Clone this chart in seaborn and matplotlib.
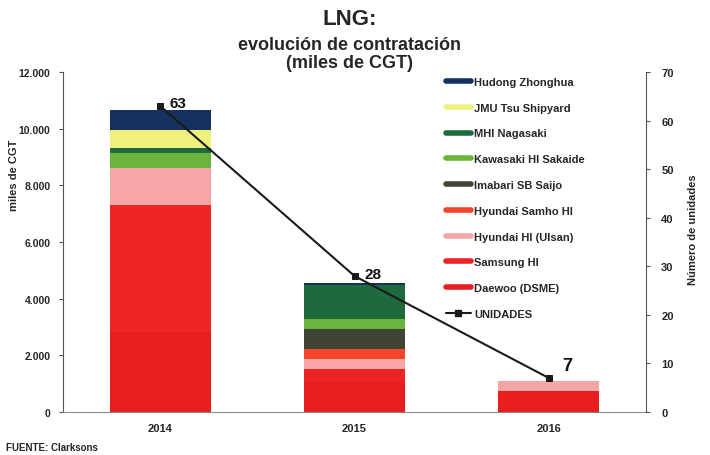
import matplotlib
matplotlib.use("Agg")
import matplotlib.pyplot as plt
import seaborn as sns
import numpy as np
import pandas as pd
from matplotlib.lines import Line2D

sns.set_style("white")
plt.rcParams['font.family'] = ['Liberation Sans', 'DejaVu Sans']

years = ["2014", "2015", "2016"]
daewoo = [2820, 1060, 750]
samsung = [4490, 460, 0]
hyundai_ulsan = [1290, 350, 350]
hyundai_samho = [0, 350, 0]
imabari = [0, 710, 0]
kawasaki = [540, 350, 0]
mhi = [170, 1200, 0]
jmu = [650, 0, 0]
hudong = [700, 70, 0]
unidades = [63, 28, 7]

values = {
    "Daewoo (DSME)": daewoo,
    "Samsung HI": samsung,
    "Hyundai HI (Ulsan)": hyundai_ulsan,
    "Hyundai Samho HI": hyundai_samho,
    "Imabari SB Saijo": imabari,
    "Kawasaki HI Sakaide": kawasaki,
    "MHI Nagasaki": mhi,
    "JMU Tsu Shipyard": jmu,
    "Hudong Zhonghua": hudong,
}
stack_order = ["Daewoo (DSME)", "Samsung HI", "Hyundai HI (Ulsan)", "Hyundai Samho HI",
               "Imabari SB Saijo", "Kawasaki HI Sakaide", "MHI Nagasaki",
               "JMU Tsu Shipyard", "Hudong Zhonghua"]
colors = {
    "Hudong Zhonghua": "#13305f",
    "JMU Tsu Shipyard": "#eef27c",
    "MHI Nagasaki": "#1e6a3c",
    "Kawasaki HI Sakaide": "#6ab43c",
    "Imabari SB Saijo": "#3f4434",
    "Hyundai Samho HI": "#f2452a",
    "Hyundai HI (Ulsan)": "#f7a6a6",
    "Samsung HI": "#ec2424",
    "Daewoo (DSME)": "#e81e1e",
}
legend_order = ["Hudong Zhonghua", "JMU Tsu Shipyard", "MHI Nagasaki", "Kawasaki HI Sakaide",
                "Imabari SB Saijo", "Hyundai Samho HI", "Hyundai HI (Ulsan)", "Samsung HI",
                "Daewoo (DSME)"]

fig = plt.figure(figsize=(7.1, 4.56), dpi=100)
ax = fig.add_axes([63/710, 43/456, (646-63)/710, (413-73)/456])

cum = np.zeros(3)
cums = []
for name in stack_order:
    cum = cum + np.array(values[name])
    cums.append((name, cum.copy()))
for name, c in reversed(cums):
    df = pd.DataFrame({"year": years, "val": c})
    sns.barplot(data=df, x="year", y="val", color=colors[name], width=0.52,
                saturation=1, ax=ax, linewidth=0)

ax.set_xlim(-0.5, 2.5)
ax.set_ylim(0, 12000)
ax.set_yticks(np.arange(0, 12001, 2000))
ax.set_yticklabels(["0", "2.000", "4.000", "6.000", "8.000", "10.000", "12.000"],
                   fontsize=7.5, fontweight="bold")
ax.set_xticks([0, 1, 2])
ax.set_xticklabels(years, fontsize=8, fontweight="bold")
ax.set_xlabel("")
ax.set_ylabel("miles de CGT", fontsize=8, fontweight="bold")
ax.yaxis.set_label_coords(-0.076, 0.70)
ax.spines["top"].set_visible(False)
ax.spines["left"].set_color("#555555")
ax.spines["bottom"].set_color("#888888")
ax.spines["right"].set_visible(False)
ax.tick_params(axis="y", length=3, direction="out", color="#555555", pad=6)
ax.tick_params(axis="x", length=0, pad=8)

ax2 = ax.twinx()
dfl = pd.DataFrame({"year": [0, 1, 2], "u": unidades})
sns.lineplot(data=dfl, x="year", y="u", ax=ax2, color="#1a1a1a", linewidth=1.5,
             marker="s", markersize=5, markeredgecolor="#1a1a1a")
ax2.set_ylim(0, 70)
ax2.set_xlim(-0.5, 2.5)
ax2.set_yticks(np.arange(0, 71, 10))
ax2.set_yticklabels([str(v) for v in range(0, 71, 10)], fontsize=8, fontweight="bold")
ax2.set_ylabel("Número de unidades", fontsize=8, fontweight="bold")
ax2.yaxis.set_label_coords(1.072, 0.54)
ax2.spines["top"].set_visible(False)
ax2.spines["left"].set_visible(False)
ax2.spines["bottom"].set_visible(False)
ax2.spines["right"].set_color("#555555")
ax2.tick_params(axis="y", length=3, direction="out", color="#555555", pad=8)
ax2.set_xlabel("")

offsets = [(0.05, 0.6, 11), (0.05, 0.4, 11), (0.07, 2.6, 13)]
for i, u in enumerate(unidades):
    dx, dy, fs = offsets[i]
    ax2.text(i + dx, u + dy, str(u), fontsize=fs, fontweight="bold",
             ha="left", va="center", color="#111111")

handles = [Line2D([0], [0], color=colors[n], lw=4) for n in legend_order]
handles.append(Line2D([0], [0], color="#1a1a1a", lw=1.5, marker="s", markersize=4))
labels = legend_order + ["UNIDADES"]
ax2.legend(handles, labels, loc="upper left", bbox_to_anchor=(0.64, 1.015),
           frameon=False, labelspacing=1.42, handlelength=2.2,
           handletextpad=0.3, prop={"weight": "bold", "size": 8})

fig.text(0.492, 0.958, "LNG:", ha="center", va="center", fontsize=16, fontweight="bold")
fig.text(0.492, 0.901, "evolución de contratación", ha="center", va="center",
         fontsize=13, fontweight="bold")
fig.text(0.492, 0.86, "(miles de CGT)", ha="center", va="center",
         fontsize=13, fontweight="bold")
fig.text(0.008, 0.017, "FUENTE: Clarksons", ha="left", va="center", fontsize=7,
         fontweight="bold")

fig.savefig("out.png", dpi=100)
